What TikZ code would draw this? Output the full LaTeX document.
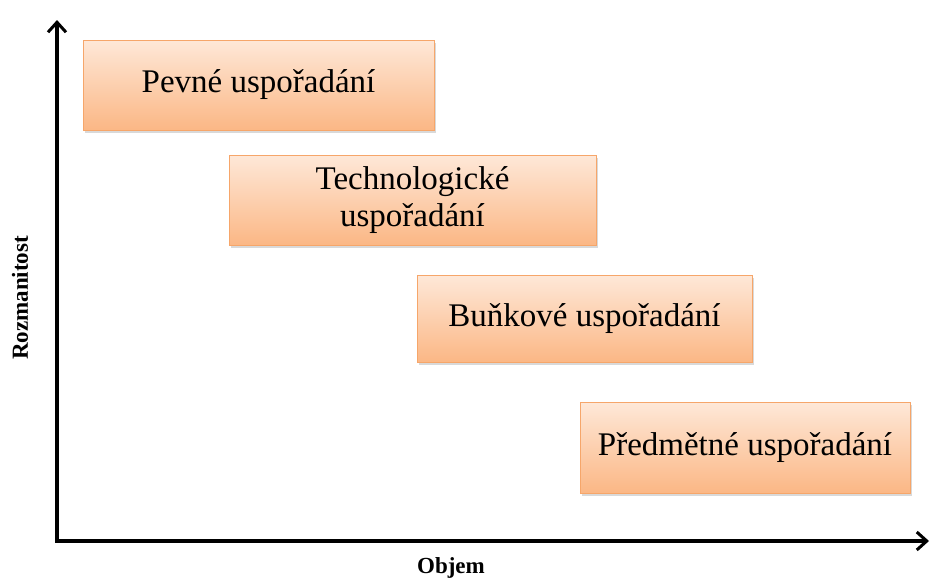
\documentclass[tikz,border=0pt]{standalone}
\usepackage{fontspec}
\setmainfont{Liberation Serif}
\usetikzlibrary{arrows.meta,shadows}
\definecolor{boxtop}{HTML}{FEE8D8}
\definecolor{boxbot}{HTML}{FBB785}
\definecolor{boxline}{HTML}{F6A66A}
\tikzset{
  stage/.style={draw=boxline, line width=0.8pt, top color=boxtop, bottom color=boxbot,
    drop shadow={shadow xshift=1.5pt, shadow yshift=-3pt, opacity=0.25, fill=black!60},
    font=\fontsize{33}{37}\selectfont, align=center, inner sep=0pt},
  axis/.style={line width=3.4pt, -{Straight Barb[length=10pt,width=18pt,line width=3pt]}},
  axlabel/.style={font=\fontsize{23}{26}\selectfont\bfseries}
}
\begin{document}
\begin{tikzpicture}[x=1pt,y=-1pt]
  \useasboundingbox (0,0) rectangle (932,579);
  % stages
  \node[stage, minimum width=351pt, minimum height=90pt] (fixed) at (258.5,85) {Pevné uspořadání};
  \node[stage, minimum width=367pt, minimum height=90pt] (tech) at (412.5,200) {Technologické\\uspořadání};
  \node[stage, minimum width=335pt, minimum height=87pt] (cell) at (584.5,318.5) {Buňkové uspořadání};
  \node[stage, minimum width=330pt, minimum height=91pt] (prod) at (745,447.5) {Předmětné uspořadání};
  % axes
  \coordinate (origin) at (57,541);
  \coordinate (ytop) at (57,20);
  \coordinate (xend) at (929,541);
  \draw[axis] (origin) -- (ytop);
  \draw[axis] ([xshift=-1.7pt]origin) -- (xend);
  \node[axlabel, rotate=90] (ylab) at (20,298) {Rozmanitost};
  \node[axlabel] (xlab) at (451,568) {Objem};
\end{tikzpicture}
\end{document}
